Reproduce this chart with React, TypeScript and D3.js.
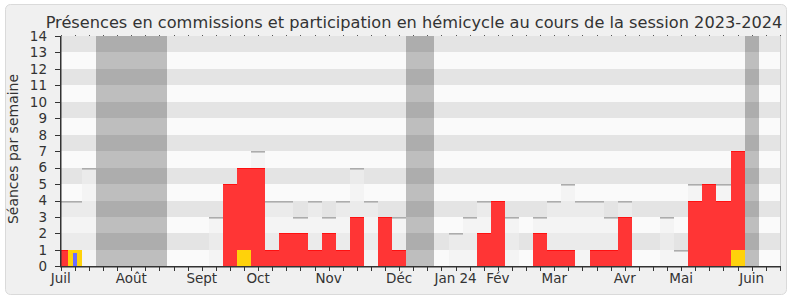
import React from "react";
import * as d3 from "d3";

// ---- data (one entry per week of the 2023-2024 session, week 0 = early July) ----
const commission = [1,0,0,0,0,0,0,0,0,0,0,0,5,5,6,1,2,2,1,2,1,3,0,3,1,0,0,0,0,0,2,4,0,0,2,1,1,0,1,1,3,0,0,0,0,4,5,4,6,0,0,0];
const hemicycle  = [0,1,0,0,0,0,0,0,0,0,0,0,0,1,0,0,0,0,0,0,0,0,0,0,0,0,0,0,0,0,0,0,0,0,0,0,0,0,0,0,0,0,0,0,0,0,0,0,1,0,0,0];
const interventions = [0,1,0,0,0,0,0,0,0,0,0,0,0,0,0,0,0,0,0,0,0,0,0,0,0,0,0,0,0,0,0,0,0,0,0,0,0,0,0,0,0,0,0,0,0,0,0,0,0,0,0,0];
const median = [4,4,6,0,0,0,0,0,0,0,0,3,5,6,7,4,4,3,4,3,4,6,4,3,3,0,0,0,2,3,4,4,3,0,3,4,5,4,4,3,4,0,0,3,1,5,5,5,5,0,0,0];
const vacationWeeks = [3,4,5,6,7,25,26,49];
const monthLabels = ["Juil","Août","Sept","Oct","Nov","Déc","Jan 24","Fév","Mar","Avr","Mai","Juin"];
const monthWeeks = [0,5,10,14,19,24,28,31,35,40,44,49];
const yTicks = d3.range(0, 15);

const W = 790, H = 300;
const left = 61, right = 780, top = 36, bottom = 266;
const FONT = "DejaVu Sans, Verdana, sans-serif";

function runs(list: number[]) {
  const out: [number, number][] = [];
  list.forEach((w) => {
    const last = out[out.length - 1];
    if (last && last[1] === w - 1) last[1] = w;
    else out.push([w, w]);
  });
  return out;
}

export default function App() {
  const nWeeks = commission.length;
  const x = d3.scaleLinear().domain([0, nWeeks - 1]).range([60.75, 779.85]);
  const y = d3.scaleLinear().domain([0, 14]).range([266.3, 36]);
  const xe = (v: number) => Math.round(x(v));
  const ye = (v: number) => Math.round(y(v));
  const weeks = d3.range(nWeeks);
  const bands = d3.range(1, 14, 2);
  const vac = runs(vacationWeeks);

  return (
    <svg width={W} height={H} style={{ display: "block", position: "absolute", left: 0, top: 0 }}>
      <defs>
        <clipPath id="plot">
          <rect x={left} y={top} width={right - left} height={bottom - top} />
        </clipPath>
      </defs>
      <rect x={0} y={0} width={W} height={H} fill="#ffffff" />
      <rect x={5.5} y={4.5} width={781} height={290} rx={5} fill="#f0f0f0" stroke="#dadada" />
      <g clipPath="url(#plot)">
        <rect x={left} y={top} width={right - left} height={bottom - top} fill="#fafafa" />
        {vac.map(([a, b]) => (
          <rect key={"v" + a} x={xe(a - 0.5)} y={top} width={xe(b + 0.5) - xe(a - 0.5)} height={bottom - top} fill="#bebebe" />
        ))}
        {bands.map((b) => (
          <rect key={"b" + b} x={left} y={ye(b + 1)} width={right - left} height={ye(b) - ye(b + 1)} fill="rgba(0,0,0,0.085)" />
        ))}
        {weeks.map((w) => median[w] > 0 ? (
          <g key={"m" + w}>
            <rect x={xe(w - 0.5)} y={ye(median[w])} width={xe(w + 0.5) - xe(w - 0.5)} height={bottom - ye(median[w])} fill="rgba(240,240,240,0.6)" />
            <rect x={xe(w - 0.5)} y={ye(median[w])} width={xe(w + 0.5) - xe(w - 0.5)} height={1.6} fill="#acacac" />
          </g>
        ) : null)}
        {weeks.map((w) => hemicycle[w] > 0 ? (
          <rect key={"h" + w} x={xe(w - 0.5)} y={ye(hemicycle[w])} width={xe(w + 0.5) - xe(w - 0.5)} height={bottom - ye(hemicycle[w])} fill="#ffd20a" />
        ) : null)}
        {weeks.map((w) => commission[w] > 0 ? (
          <g key={"c" + w}>
            <rect x={xe(w - 0.5)} y={ye(hemicycle[w] + commission[w])} width={xe(w + 0.5) - xe(w - 0.5)} height={ye(hemicycle[w]) - ye(hemicycle[w] + commission[w])} fill="#ff3535" />
            <rect x={xe(w - 0.5)} y={ye(hemicycle[w] + commission[w])} width={xe(w + 0.5) - xe(w - 0.5)} height={1} fill="#ff1010" />
          </g>
        ) : null)}
        {weeks.map((w) => interventions[w] > 0 ? (
          <rect key={"i" + w} x={xe(w) - 2} y={ye(interventions[w]) + 3} width={4} height={bottom - ye(interventions[w]) - 3} fill="#6b6bff" />
        ) : null)}
      </g>
      {/* top dots */}
      {weeks.map((w) => (
        <rect key={"d" + w} x={xe(w)} y={top - 1} width={1} height={1} fill="#555" />
      ))}
      {/* right border */}
      <rect x={right} y={top} width={1} height={bottom - top} fill="#cfcfcf" />
      {/* y axis */}
      <rect x={left - 1} y={top} width={1.5} height={bottom - top + 1} fill="#333" />
      {yTicks.map((t) => (
        <g key={"yt" + t}>
          <rect x={left - 6} y={ye(t)} width={5} height={1} fill="#333" />
          <text x={47} y={y(t)} dy="0.36em" textAnchor="end" fontFamily={FONT} fontSize={13.5} fill="#333">{t}</text>
        </g>
      ))}
      {/* x axis */}
      <rect x={left - 1} y={bottom} width={right - left + 1} height={1.5} fill="#333" />
      {weeks.map((w) => (
        <rect key={"xt" + w} x={xe(w)} y={bottom} width={1} height={5} fill="#333" />
      ))}
      {monthLabels.map((m, i) => (
        <text key={"ml" + i} x={x(monthWeeks[i])} y={283} textAnchor="middle" fontFamily={FONT} fontSize={13.5} fill="#333">{m}</text>
      ))}
      <text transform={`translate(18,${(top + bottom) / 2 - 2}) rotate(-90)`} textAnchor="middle" fontFamily={FONT} fontSize={14} fill="#333">Séances par semaine</text>
      <text x={414} y={28} textAnchor="middle" fontFamily={FONT} fontSize={16.2} fill="#333">Présences en commissions et participation en hémicycle au cours de la session 2023-2024</text>
    </svg>
  );
}
